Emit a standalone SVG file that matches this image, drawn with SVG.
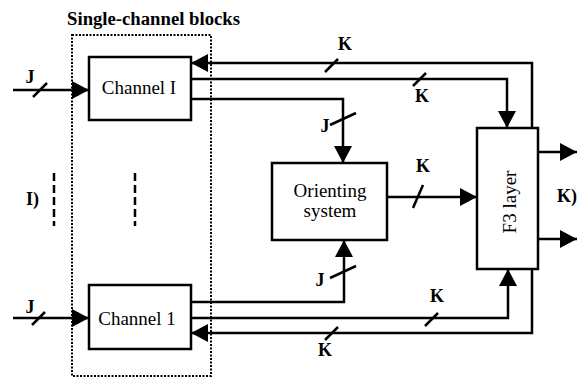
<svg xmlns="http://www.w3.org/2000/svg" width="579" height="379" viewBox="0 0 579 379">
<style>
  .box{fill:#fff;stroke:#000;stroke-width:2.5}
  .t{font-family:'Liberation Serif','DejaVu Serif',serif;font-size:19px;fill:#000}
  .title{font-family:'Liberation Serif','DejaVu Serif',serif;font-size:18.7px;font-weight:bold;fill:#000}
  .lbl{font-family:'Liberation Serif','DejaVu Serif',serif;font-size:18px;font-weight:bold;fill:#000}
  .c{fill:none;stroke:#000;stroke-width:2.5}
  .a{marker-end:url(#arr)}
  .sl{stroke:#000;stroke-width:2.5;fill:none}
  .dash{stroke:#000;stroke-width:2.5;stroke-dasharray:8 4;fill:none}
</style>
<defs>
  <marker id="arr" markerUnits="userSpaceOnUse" markerWidth="18" markerHeight="18" viewBox="0 0 18 18" refX="17" refY="9" orient="auto">
    <path d="M0,0 L17,9 L0,18 z" fill="#000"/>
  </marker>
</defs>
<rect width="579" height="379" fill="#fff"/>

<g id="single-channel-blocks">
  <rect x="72" y="35" width="139" height="341" fill="none" stroke="#000" stroke-width="2" stroke-dasharray="2 1.5"/>
  <text class="title" x="153.5" y="25" text-anchor="middle">Single-channel blocks</text>
</g>

<g id="connectors">
  <path class="c a" d="M13,90 H89"/>
  <path class="c a" d="M13,318 H89"/>
  <path class="c a" d="M532,128 V63 H191"/>
  <path class="c a" d="M191,79 H507 V128"/>
  <path class="c a" d="M191,99 H343 V163"/>
  <path class="c a" d="M191,302 H344 V240"/>
  <path class="c a" d="M191,318 H508 V269"/>
  <path class="c a" d="M532,269 V333 H191"/>
  <path class="c a" d="M387,197 H477"/>
  <path class="c a" d="M538,152 H577"/>
  <path class="c a" d="M538,239 H577"/>
  <path class="sl" d="M33,97 L47,83"/>
  <path class="sl" d="M32,325 L45,312"/>
  <path class="sl" d="M325,72 L338,59"/>
  <path class="sl" d="M413,86 L426,73"/>
  <path class="sl" d="M330,125 L356,113"/>
  <path class="sl" d="M413,208 L423,185"/>
  <path class="sl" d="M330,278 L356,266"/>
  <path class="sl" d="M425,326 L438,313"/>
  <path class="sl" d="M325,340 L338,327"/>
  <path class="dash" d="M54,173 V226"/>
  <path class="dash" d="M135,173 V226"/>
</g>

<g id="channel-top">
  <rect class="box" x="89" y="57" width="102" height="63"/>
  <text class="t" x="139" y="94" text-anchor="middle">Channel I</text>
</g>

<g id="channel-bottom">
  <rect class="box" x="89" y="285" width="102" height="64"/>
  <text class="t" x="137" y="325" text-anchor="middle">Channel 1</text>
</g>

<g id="orienting-system">
  <rect class="box" x="272" y="163" width="115" height="77"/>
  <text class="t" x="330" y="197" text-anchor="middle">Orienting</text>
  <text class="t" x="330" y="217" text-anchor="middle">system</text>
</g>

<g id="f3-layer">
  <rect class="box" x="477" y="128" width="61" height="141"/>
  <text class="t" x="0" y="0" text-anchor="middle" transform="translate(516,202) rotate(-90)">F3 layer</text>
</g>

<g id="labels">
  <text class="lbl" x="30" y="83" text-anchor="middle">J</text>
  <text class="lbl" x="30" y="313" text-anchor="middle">J</text>
  <text class="lbl" x="345" y="50" text-anchor="middle">K</text>
  <text class="lbl" x="422" y="102" text-anchor="middle">K</text>
  <text class="lbl" x="325" y="132" text-anchor="middle">J</text>
  <text class="lbl" x="423" y="172" text-anchor="middle">K</text>
  <text class="lbl" x="320" y="286" text-anchor="middle">J</text>
  <text class="lbl" x="437" y="302" text-anchor="middle">K</text>
  <text class="lbl" x="325" y="356" text-anchor="middle">K</text>
  <text class="lbl" x="557" y="202">K)</text>
  <text class="lbl" x="26" y="205">I)</text>
</g>
</svg>
